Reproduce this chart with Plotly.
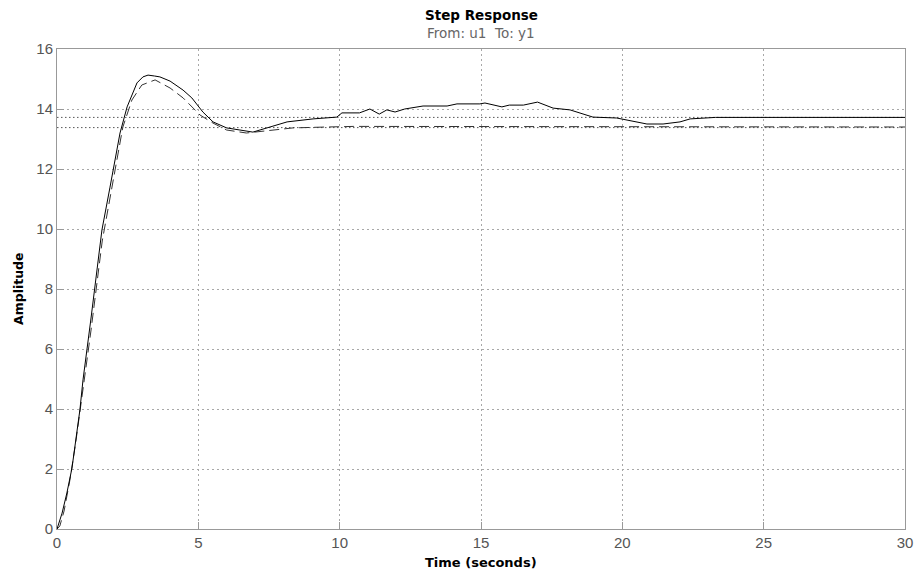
import plotly.graph_objects as go

# Step response of the actual system (solid) and the model (dashed)
t_solid = [0, 0.18, 0.35, 0.53, 0.81, 0.92, 1.2, 1.59, 1.87, 1.98, 2.23, 2.48, 2.83, 3.04, 3.22,
           3.45, 3.64, 4.0, 4.46, 4.77, 5.16, 5.52, 6.0, 6.47, 6.93, 7.43, 8.14, 9.06, 9.9, 10.08,
           10.36, 10.7, 11.07, 11.4, 11.67, 11.96, 12.3, 12.95, 13.8, 14.15, 14.96, 15.14, 15.74,
           16.0, 16.5, 17.0, 17.55, 18.15, 18.96, 19.8, 20.87, 21.44, 22.04, 22.4, 23.3, 30]
y_solid = [0, 0.53, 1.2, 2.03, 3.97, 4.97, 7.0, 9.97, 11.37, 11.97, 13.2, 14.07, 14.87, 15.07, 15.13,
           15.1, 15.07, 14.93, 14.63, 14.37, 13.9, 13.57, 13.37, 13.3, 13.23, 13.37, 13.57, 13.67, 13.73, 13.87,
           13.87, 13.87, 14.0, 13.83, 13.97, 13.9, 14.0, 14.1, 14.1, 14.17, 14.17, 14.2, 14.07,
           14.13, 14.13, 14.23, 14.03, 13.97, 13.73, 13.7, 13.5, 13.5, 13.57, 13.67, 13.72, 13.72]

t_dashed = [0, 0.1, 0.25, 0.45, 0.65, 0.9, 1.2, 1.6, 1.9, 2.33, 2.65, 3.0, 3.47, 4.0, 4.46,
            5.06, 5.52, 6.0, 6.7, 7.4, 8.35, 9.55, 10.5, 30]
y_dashed = [0, 0.1, 0.6, 1.6, 2.8, 4.5, 6.6, 9.6, 11.2, 13.4, 14.3, 14.8, 14.97, 14.7, 14.37,
            13.8, 13.53, 13.3, 13.2, 13.27, 13.37, 13.4, 13.42, 13.4]

# Steady-state levels
ss_levels = [13.72, 13.38]

x_ticks = [0, 5, 10, 15, 20, 25, 30]
y_ticks = [0, 2, 4, 6, 8, 10, 12, 14, 16]

TICK_FONT = "Liberation Sans, Arial, sans-serif"
LABEL_FONT = "DejaVu Sans, sans-serif"

fig = go.Figure()

for lvl in ss_levels:
    fig.add_trace(go.Scatter(x=[0, 30], y=[lvl, lvl], mode="lines",
                             line=dict(color="#555555", width=1, dash="1.5px,2.5px"),
                             hoverinfo="skip", showlegend=False))

fig.add_trace(go.Scatter(x=t_dashed, y=y_dashed, mode="lines",
                         line=dict(color="#333333", width=1, dash="10px,5px"),
                         showlegend=False))
fig.add_trace(go.Scatter(x=t_solid, y=y_solid, mode="lines",
                         line=dict(color="#000000", width=1),
                         showlegend=False))

axis_common = dict(
    showline=True, linecolor="#999999", linewidth=1, mirror=True,
    ticks="inside", ticklen=7, tickcolor="#999999",
    showgrid=True, gridcolor="#a8a8a8", griddash="1.5px,3.5px", gridwidth=1,
    zeroline=False, automargin=False,
    tickfont=dict(family=TICK_FONT, size=15, color="#555555"),
)

fig.update_xaxes(range=[0, 30], tickvals=x_ticks, **axis_common)
fig.update_yaxes(range=[0, 16], tickvals=y_ticks, **axis_common)

# Axis titles
fig.add_annotation(text="<b>Time (seconds)</b>", xref="paper", yref="paper",
                   x=0.5, y=0, yshift=-33, showarrow=False, yanchor="middle",
                   font=dict(family=LABEL_FONT, size=13, color="#000000"))
fig.add_annotation(text="<b>Amplitude</b>", xref="paper", yref="paper",
                   x=0, y=0.5, xshift=-39, textangle=-90, showarrow=False,
                   xanchor="center", yanchor="middle",
                   font=dict(family=LABEL_FONT, size=12.5, color="#000000"))

# Plot titles
fig.add_annotation(text="<b>Step Response</b>", xref="paper", yref="paper",
                   x=0.5, y=1, yshift=34, showarrow=False, yanchor="middle",
                   font=dict(family=LABEL_FONT, size=13.5, color="#000000"))
fig.add_annotation(text="From: u1  To: y1", xref="paper", yref="paper",
                   x=0.5, y=1, yshift=16, showarrow=False, yanchor="middle",
                   font=dict(family=LABEL_FONT, size=13.5, color="#666666"))

fig.update_layout(
    width=917, height=574,
    margin=dict(l=57, r=12, t=49, b=45),
    paper_bgcolor="#ffffff", plot_bgcolor="#ffffff",
)

fig.write_html("out.html")
